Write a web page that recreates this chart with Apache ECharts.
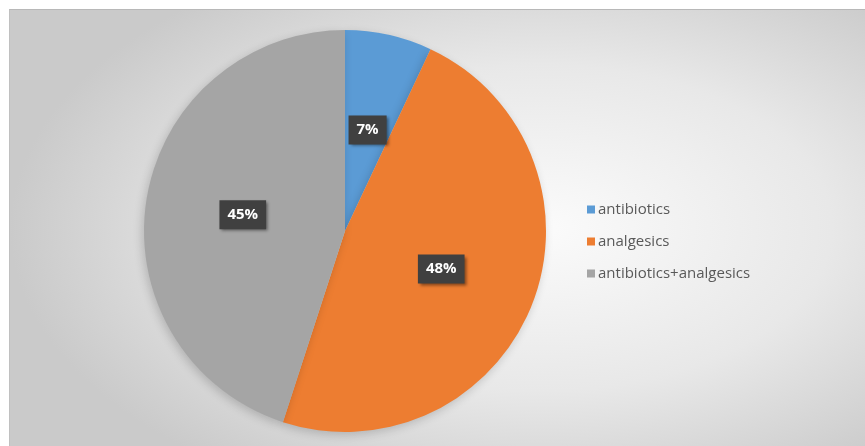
<!DOCTYPE html>
<html>
<head>
<meta charset="utf-8">
<script src="https://cdn.jsdelivr.net/npm/echarts@6/dist/echarts.min.js"></script>
<style>
  html, body { margin: 0; padding: 0; background: #ffffff; }
  #wrap { position: relative; width: 865px; height: 446px; overflow: hidden; }
  #bg { position: absolute; left: 9px; top: 9px; width: 856px; height: 437px;
        background: radial-gradient(ellipse 62% 68% at 62% 50%, #fbfbfb 0%, #e8e8e8 55%, #cacaca 100%);
        border-top: 1px solid #b8b8b8; border-left: 1px solid #c0c0c0; box-sizing: border-box; }
  #chart { position: absolute; left: 0; top: 0; width: 865px; height: 446px; }
</style>
</head>
<body>
<div id="wrap">
  <div id="bg"></div>
  <div id="chart"></div>
</div>
<script>
const categories = ['antibiotics', 'analgesics', 'antibiotics+analgesics'];
const values = [7, 48, 45];
const colors = ['#5b9bd5', '#ed7d31', '#a5a5a5'];

const chart = echarts.init(document.getElementById('chart'), null, { renderer: 'canvas' });
chart.setOption({
  backgroundColor: 'transparent',
  animation: false,
  color: colors,
  legend: {
    orient: 'vertical',
    left: 582,
    top: 197,
    itemWidth: 8,
    itemHeight: 8,
    itemGap: 17,
    icon: 'rect',
    textStyle: { color: '#595959', fontSize: 15, fontFamily: 'Open Sans', padding: [0, 0, 0, -2] },
    data: categories
  },
  series: [{
    type: 'pie',
    center: [345, 231],
    radius: 201,
    startAngle: 90,
    clockwise: true,
    itemStyle: { borderWidth: 0, shadowBlur: 10, shadowColor: 'rgba(0,0,0,0.18)', shadowOffsetX: -2, shadowOffsetY: 3 },
    label: {
      show: true,
      position: 'inside',
      formatter: '{c}%',
      color: '#ffffff',
      fontWeight: 'bold',
      fontSize: 15,
      fontFamily: 'Open Sans',
      backgroundColor: '#404040',
      padding: [8, 8, 6, 8],
      shadowBlur: 3,
      shadowOffsetX: 2,
      shadowOffsetY: 2,
      shadowColor: 'rgba(0,0,0,0.45)'
    },
    labelLine: { show: false },
    emphasis: { disabled: true },
    data: categories.map((c, i) => ({ name: c, value: values[i] }))
  }]
});
</script>
</body>
</html>
